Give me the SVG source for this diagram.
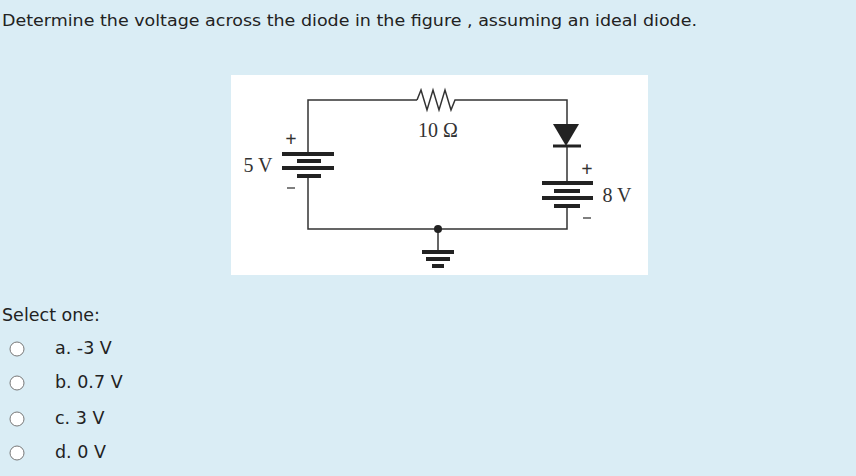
<svg xmlns="http://www.w3.org/2000/svg" width="856" height="476" viewBox="0 0 856 476">
<style>
.t{font-family:"DejaVu Sans",Verdana,sans-serif;font-size:16.5px;fill:#222}
.o{font-family:"DejaVu Sans",Verdana,sans-serif;font-size:17.5px;fill:#222}
.c{font-family:"Liberation Serif","Times New Roman",serif;font-size:20px;fill:#333}
.w{stroke:#333;stroke-width:1.5;fill:none}
.p{stroke:#222;stroke-width:4}
.r{fill:#fff;stroke:#777;stroke-width:1}
</style>
<rect width="856" height="476" fill="#daedf5"/>
<text class="t" x="2" y="26" textLength="695" lengthAdjust="spacingAndGlyphs">Determine the voltage across the diode in the figure , assuming an ideal diode.</text>
<rect x="231" y="75" width="417" height="200" fill="#fff"/>
<g id="connectors">
<path class="w" d="M308 154V100H417M458 100H567V124M567 146V183M567 206V229H308V176M438 229V252"/>
</g>
<g id="resistor"><polyline class="w" points="417,100 421,90 427,110 433,90 439,110 445,90 451,110 455,100 458,100"/><text class="c" x="438" y="137" text-anchor="middle">10 Ω</text></g>
<g id="battery5">
<line class="p" x1="282" y1="154" x2="334" y2="154"/><line class="p" x1="297" y1="161" x2="321" y2="161"/><line class="p" x1="282" y1="168" x2="334" y2="168"/><line class="p" x1="297" y1="176" x2="321" y2="176"/>
<text class="c" x="291" y="146" text-anchor="middle" font-weight="bold">+</text><line x1="287" y1="188" x2="295" y2="188" stroke="#555" stroke-width="1.5"/>
<text class="c" x="258" y="172" text-anchor="middle">5 V</text></g>
<g id="diode"><polygon points="553,124 579,124 566,146" fill="#222"/><line x1="553" y1="146" x2="581" y2="146" stroke="#222" stroke-width="3"/></g>
<g id="battery8">
<line class="p" x1="542" y1="183" x2="593" y2="183"/><line class="p" x1="554" y1="191" x2="580" y2="191"/><line class="p" x1="542" y1="198" x2="593" y2="198"/><line class="p" x1="554" y1="206" x2="580" y2="206"/>
<text class="c" x="587" y="176" text-anchor="middle" font-weight="bold">+</text><line x1="583" y1="218" x2="591" y2="218" stroke="#555" stroke-width="1.5"/>
<text class="c" x="617" y="202" text-anchor="middle">8 V</text></g>
<g id="ground"><circle cx="438" cy="229" r="4" fill="#222"/>
<line class="p" x1="422" y1="252" x2="454" y2="252"/><line class="p" x1="426" y1="259" x2="450" y2="259"/><line class="p" x1="432" y1="266" x2="444" y2="266"/></g>
<text class="o" x="2" y="321">Select one:</text>
<circle class="r" cx="17" cy="349" r="7"/><text class="o" x="55" y="354">a. -3 V</text>
<circle class="r" cx="17" cy="383" r="7"/><text class="o" x="55" y="388">b. 0.7 V</text>
<circle class="r" cx="17" cy="419" r="7"/><text class="o" x="55" y="424">c. 3 V</text>
<circle class="r" cx="17" cy="453" r="7"/><text class="o" x="55" y="458">d. 0 V</text>
</svg>
